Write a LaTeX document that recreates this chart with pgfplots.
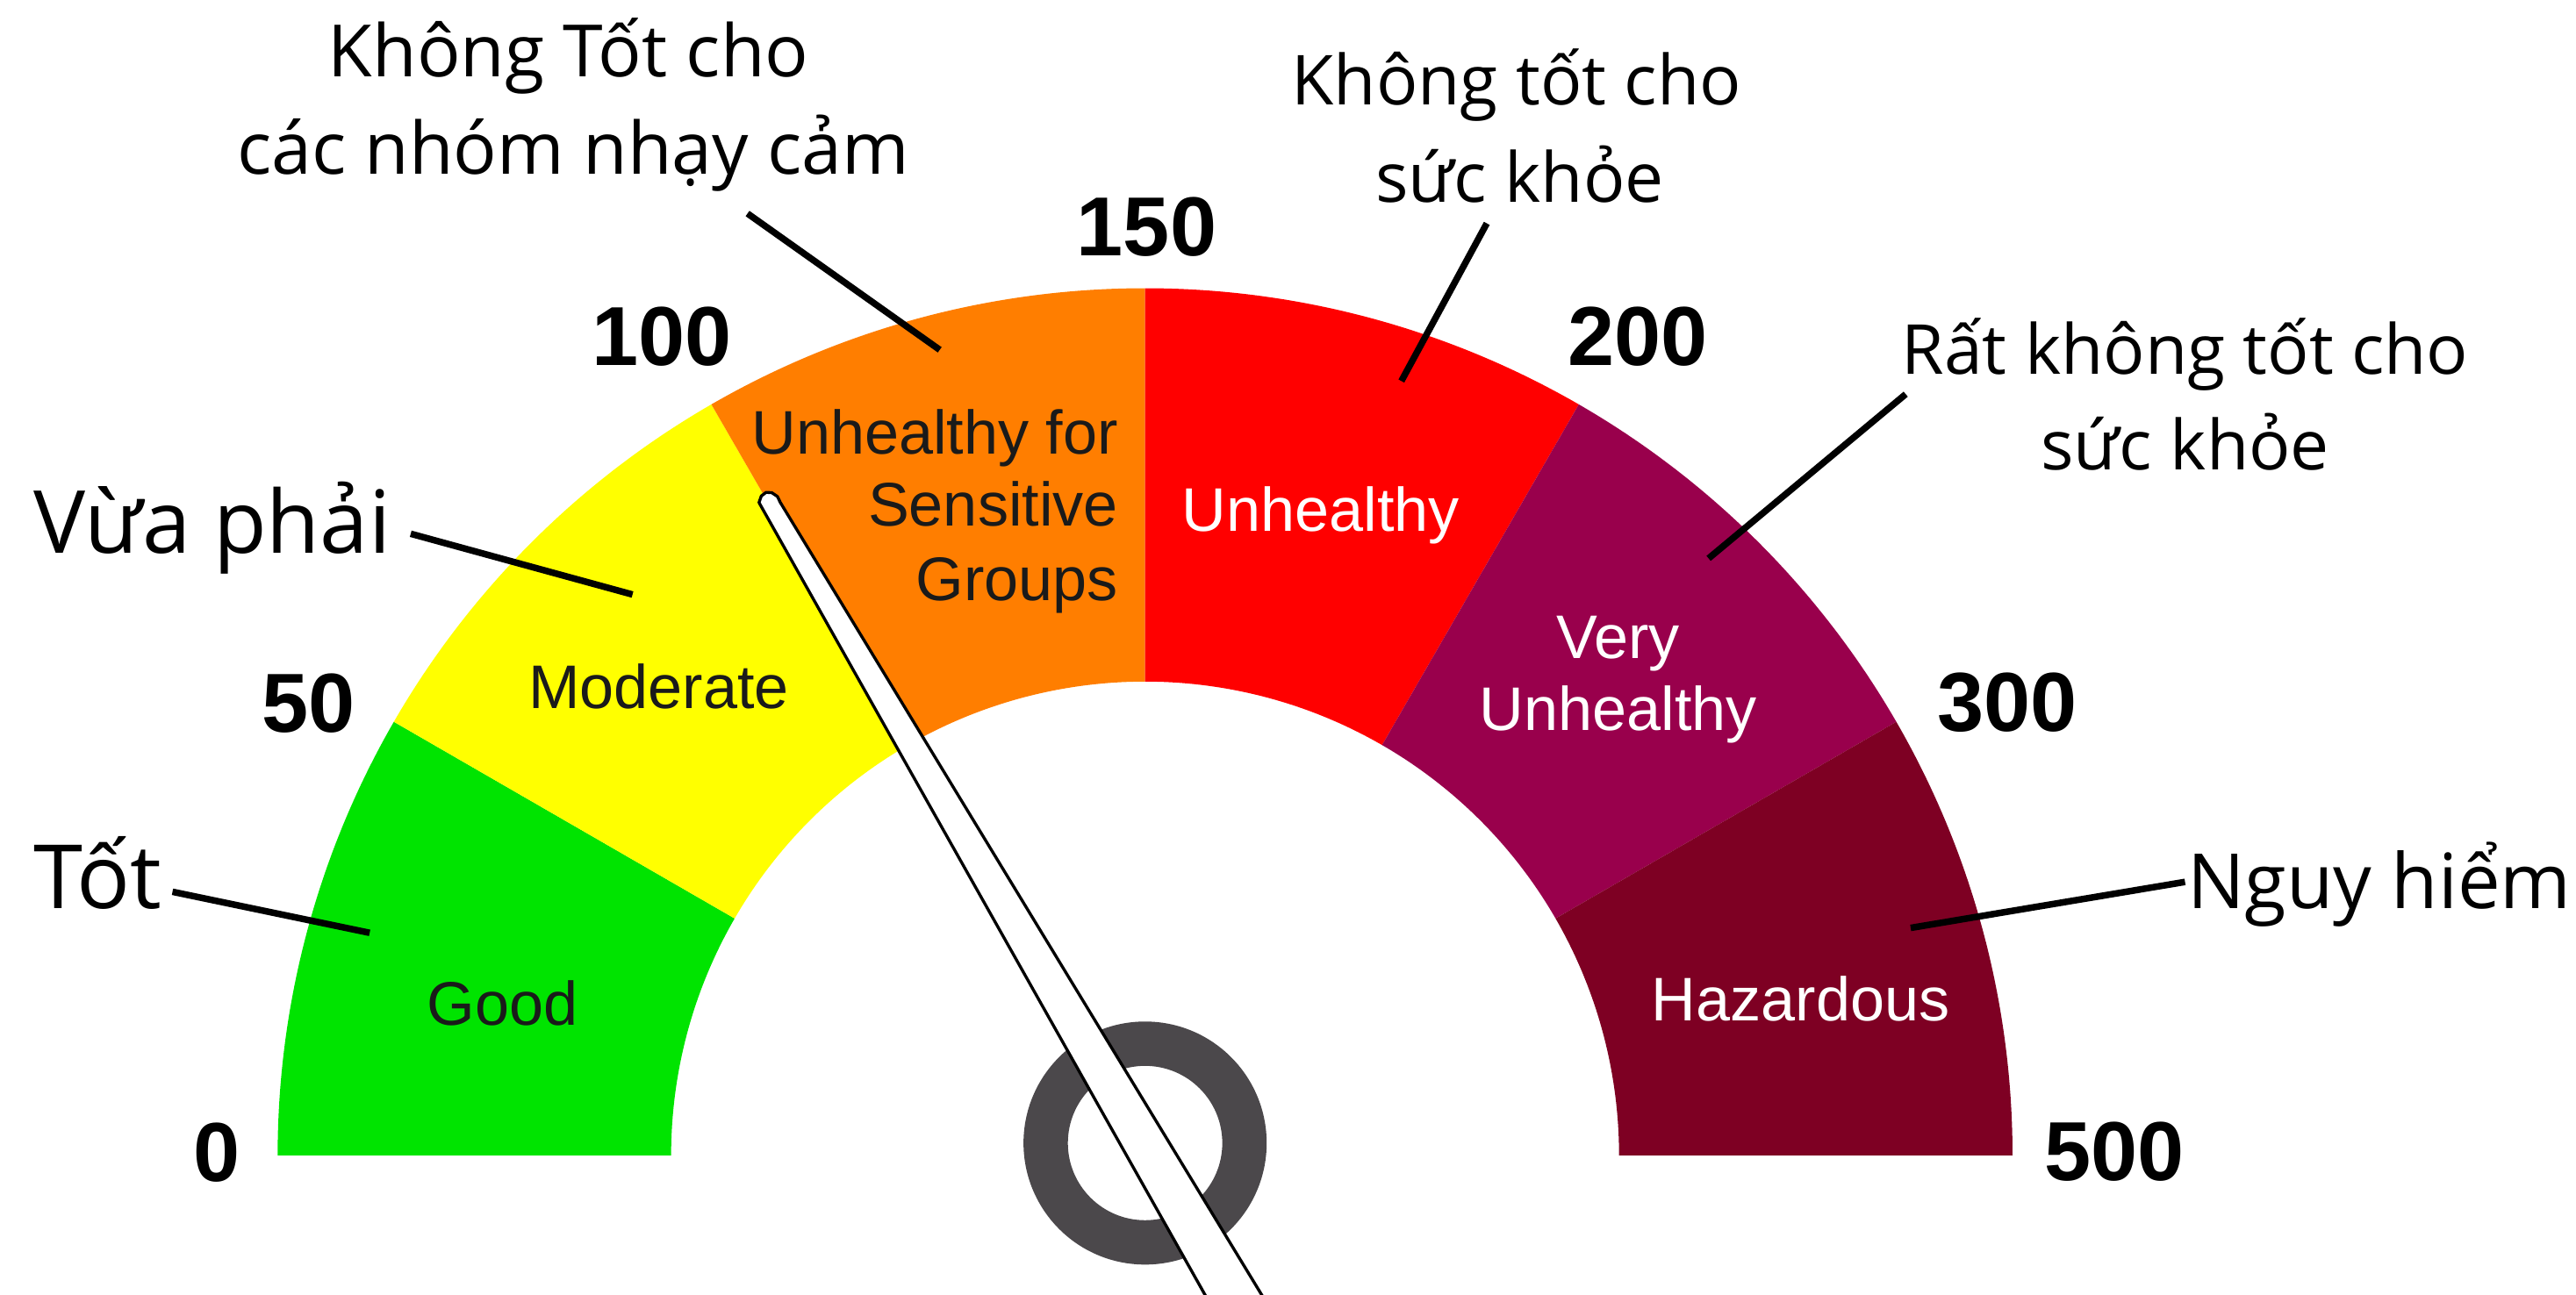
\documentclass[border=0pt]{standalone}
\usepackage{pgfplots}
\pgfplotsset{compat=1.18}
\usepackage{fontspec}
\setmainfont{Liberation Sans}
\newfontfamily\vnfont{Open Sans}

\definecolor{aqigood}{HTML}{00E400}
\definecolor{aqimod}{HTML}{FFFF00}
\definecolor{aqiusg}{HTML}{FF7E00}
\definecolor{aqiunh}{HTML}{FF0000}
\definecolor{aqivery}{HTML}{99004C}
\definecolor{aqihaz}{HTML}{7E0023}
\definecolor{hub}{HTML}{4B484B}
\definecolor{ink}{HTML}{1A1A1A}

% 1 px of the picture = 0.5pt; outer radius 528 px, inner 288.5 px
\newcommand\sector[3]{%
  \fill[#3] ([shift={(#1:264pt)}]C) arc[start angle=#1, end angle=#2, radius=264pt]
    -- ([shift={(#2:144.25pt)}]C) arc[start angle=#2, end angle=#1, radius=144.25pt] -- cycle;}

\newcommand\num{\bfseries\fontsize{25.5}{30}\selectfont}
\newcommand\cat{\fontsize{18.75}{22}\selectfont}
\newcommand\vn[1]{\vnfont\fontsize{#1}{30}\selectfont}

\begin{document}
\begin{tikzpicture}[every node/.append style={inner sep=0pt}]
\begin{axis}[
	x=0.5pt, y=0.5pt,
	xmin=0, xmax=1568, ymin=0, ymax=788.5,
	y dir=reverse, enlargelimits=false,
	hide axis, scale only axis, clip=false,
	]
\coordinate (SW) at (axis cs:0,788.5);
\coordinate (NE) at (axis cs:1568,0);
\coordinate (C) at (axis cs:697,703.5);
\coordinate (H) at (axis cs:697,696);

% AQI bands 0-50-100-150-200-300-500, 30 degrees each
\sector{180}{150}{aqigood}
\sector{150}{120}{aqimod}
\sector{120}{90}{aqiusg}
\sector{90}{60}{aqiunh}
\sector{60}{30}{aqivery}
\sector{30}{0}{aqihaz}

% leader lines
\addplot[black, line width=2pt] coordinates {(105,543) (225,568)};
\addplot[black, line width=2pt] coordinates {(250,325) (385,362)};
\addplot[black, line width=2pt] coordinates {(455,130) (572,213)};
\addplot[black, line width=2pt] coordinates {(905,136) (853,232)};
\addplot[black, line width=2pt] coordinates {(1160,240) (1040,340)};
\addplot[black, line width=2pt] coordinates {(1330,537) (1163,565)};

% hub
\fill[hub, even odd rule] (H) circle[radius=37pt] (H) circle[radius=23.5pt];

% needle
\addplot[fill=white, draw=black, line width=0.9pt, line join=round] coordinates {
(462,306) (463.4,302) (466.3,299.8) (469.8,300) (473.2,302.3) (475,306)
(775,800) (740,800)} -- cycle;

% breakpoints
\node[font=\num] at (axis cs:132,702) {0};
\node[font=\num] at (axis cs:188,428) {50};
\node[font=\num] at (axis cs:403,205) {100};
\node[font=\num] at (axis cs:698,138) {150};
\node[font=\num] at (axis cs:997,205) {200};
\node[font=\num] at (axis cs:1222,428) {300};
\node[font=\num] at (axis cs:1287,701) {500};

% band names
\node[font=\cat, text=ink, anchor=base] at (axis cs:306,624.5) {Good};
\node[font=\cat, text=ink, anchor=base] at (axis cs:401,431.5) {Moderate};
\node[font=\cat, text=ink, anchor=base east] at (axis cs:681,276.5) {Unhealthy for};
\node[font=\cat, text=ink, anchor=base east] at (axis cs:681,320.5) {Sensitive};
\node[font=\cat, text=ink, anchor=base east] at (axis cs:681,365.5) {Groups};
\node[font=\cat, text=white, anchor=base] at (axis cs:804,323.5) {Unhealthy};
\node[font=\cat, text=white, anchor=base] at (axis cs:985,401) {Very};
\node[font=\cat, text=white, anchor=base] at (axis cs:985,445) {Unhealthy};
\node[font=\cat, text=white, anchor=base] at (axis cs:1096,621.5) {Hazardous};

% Vietnamese names
\node[font=\vn{22}, anchor=base] at (axis cs:346,47) {Không Tốt cho};
\node[font=\vn{22}, anchor=base] at (axis cs:349,106) {các nhóm nhạy cảm};
\node[font=\vn{21}, anchor=base] at (axis cs:923,64) {Không tốt cho};
\node[font=\vn{21}, anchor=base] at (axis cs:925,123) {sức khỏe};
\node[font=\vn{21}, anchor=base] at (axis cs:1330,228) {Rất không tốt cho};
\node[font=\vn{21}, anchor=base] at (axis cs:1330,286) {sức khỏe};
\node[font=\vn{26.5}, anchor=base west] at (axis cs:20,337) {Vừa phải};
\node[font=\vn{27}, anchor=base west] at (axis cs:20,553) {Tốt};
\node[font=\vn{23.2}, anchor=base west] at (axis cs:1331,553) {Nguy hiểm};
\end{axis}
\pgfresetboundingbox
\path[use as bounding box] (SW) rectangle (NE);
\end{tikzpicture}
\end{document}
